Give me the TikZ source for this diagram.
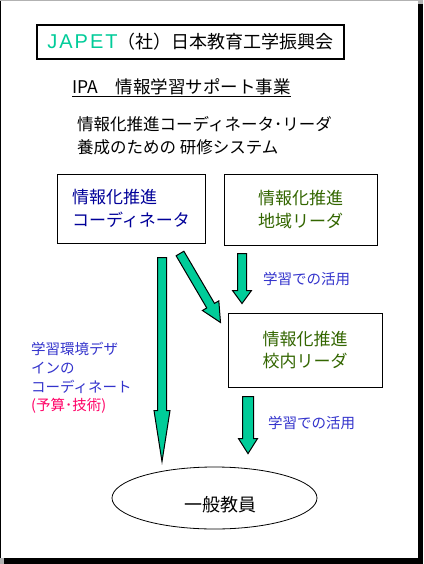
\documentclass[tikz,border=0pt]{standalone}
\usepackage{fontspec}
\setmainfont{Noto Sans CJK JP}
\newfontfamily\latinfont[LetterSpace=10]{Liberation Sans}
\usetikzlibrary{calc, positioning, shapes.geometric}

\definecolor{japetgreen}{RGB}{0,204,153}
\definecolor{coordblue}{RGB}{0,0,153}
\definecolor{leadergreen}{RGB}{51,102,0}
\definecolor{labelblue}{RGB}{51,51,204}
\definecolor{budgetpink}{RGB}{255,0,102}

% block arrow: from, to, shaft half width, head half width, head length
\newcommand{\blockarrow}[5]{%
  \draw[blockarrow] let \p1=($(#2)-(#1)$), \n1={atan2(\y1,\x1)}, \n2={veclen(\x1,\y1)} in
    ([shift={(#1)},rotate=\n1]0,#3) -- ([shift={(#1)},rotate=\n1]\n2-#5,#3)
    -- ([shift={(#1)},rotate=\n1]\n2-#5,#4) -- (#2)
    -- ([shift={(#1)},rotate=\n1]\n2-#5,-#4) -- ([shift={(#1)},rotate=\n1]\n2-#5,-#3)
    -- ([shift={(#1)},rotate=\n1]0,-#3) -- cycle;}

\begin{document}
\begin{tikzpicture}[
    x=1pt, y=1pt,
    box/.style={draw, line width=1pt, align=left, inner sep=0pt,
                font=\fontsize{17}{22.5}\selectfont},
    blockarrow/.style={fill=japetgreen, draw=black, line width=1pt, line join=miter},
    usage/.style={anchor=west, inner sep=0pt, text=labelblue,
                  font=\fontsize{14.5}{18.7}\selectfont}
]
    \useasboundingbox (0,0) rectangle (423,-564);

    % Page with shadow
    \fill[gray!60] (0,0) rectangle (423,-564);
    \fill[black] (4,-4) rectangle (423,-564);
    \fill[black] (0,-1) rectangle (418,-558);
    \fill[white] (1,-1) rectangle (418,-558);

    % Heading
    \node[draw, line width=2pt, minimum width=307, minimum height=34, inner sep=0pt]
        (japet) at (190.5,-42)
        {{\latinfont\fontsize{20}{20}\selectfont\color{japetgreen}JAPET}\fontsize{18}{18}\selectfont（社）日本教育工学振興会};

    \node[anchor=west, inner sep=0pt, font=\fontsize{17.5}{17.5}\selectfont] (ipa) at (72,-87)
        {IPA　情報学習サポート事業};
    \draw[line width=1pt] ($(ipa.base west)+(0,-3)$) -- ($(ipa.base east)+(0,-3)$);

    \node[anchor=west, inner sep=0pt, align=left, font=\fontsize{16.5}{23}\selectfont] (course) at (77,-135.5)
        {情報化推進コーディネータ･リーダ\\養成のための 研修システム};

    % Boxes
    \node[box, minimum width=148, minimum height=69, text=coordblue] (coord) at (131,-208.5)
        {情報化推進\\コーディネータ};
    \node[box, minimum width=153, minimum height=71, text=leadergreen] (region) at (300.5,-209.5)
        {情報化推進\\地域リーダ};
    \node[box, minimum width=154, minimum height=74, text=leadergreen] (school) at (305,-350)
        {情報化推進\\校内リーダ};

    % Teachers
    \node[draw, ellipse, line width=0.8pt, minimum width=205, minimum height=62, inner sep=0pt]
        (staff) at (214.5,-498) {};
    \node[font=\fontsize{18}{18}\selectfont, inner sep=0pt] (stafftext) at ($(staff)+(5.5,-7)$) {一般教員};

    % Arrow ends
    \coordinate (longS) at ($(coord.south)+(31,-14)$);
    \coordinate (longE) at ($(staff.north)+(-52.5,5)$);
    \coordinate (diagS) at ($(coord.south)+(49,-10)$);
    \coordinate (diagE) at ($(school.north west)+(-7,-10)$);
    \coordinate (shortS) at ($(region.south)+(-58.5,-8)$);
    \coordinate (shortE) at ($(school.north)+(-63,9)$);
    \coordinate (lowS) at ($(school.south)+(-57,-9)$);
    \coordinate (lowE) at ($(staff.north)+(33.5,13)$);

    % Arrows
    \blockarrow{longS}{longE}{4.5}{8}{51}
    \blockarrow{diagS}{diagE}{4.5}{9.5}{19.5}
    \blockarrow{shortS}{shortE}{4.5}{9.5}{13}
    \blockarrow{lowS}{lowE}{5.5}{9.5}{15}

    % Labels
    \node[usage] (use1) at (263,-279) {学習での活用};
    \node[usage] (use2) at (268,-423) {学習での活用};
    \node[usage, align=left] (design) at (31,-378)
        {学習環境デザ\\インの\\コーディネート\\{\color{budgetpink}(予算･技術)}};

\end{tikzpicture}
\end{document}
